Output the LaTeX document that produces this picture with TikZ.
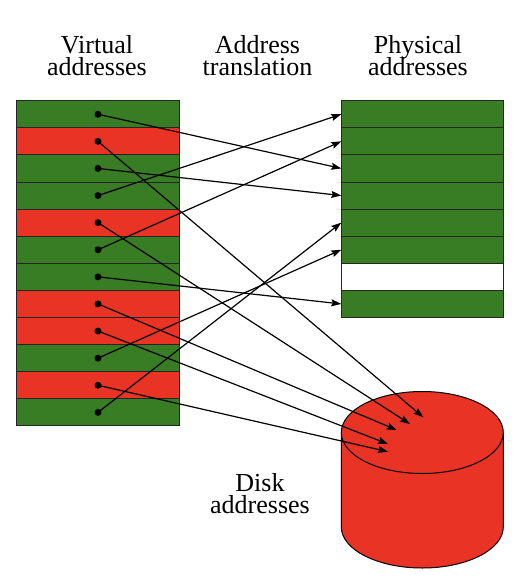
\documentclass[tikz,border=0pt]{standalone}
\usepackage{fontspec}
\setmainfont{Liberation Serif}
\usetikzlibrary{arrows.meta}
\definecolor{pgreen}{RGB}{56,124,36}
\definecolor{pred}{RGB}{233,51,36}
\begin{document}
\begin{tikzpicture}[x=1pt,y=-1pt,
  rowbox/.style={draw=black!85,line width=1pt,minimum width=162.6pt,minimum height=27.1pt,inner sep=0pt,outer sep=0pt,anchor=north west},
  greenrow/.style={rowbox,fill=pgreen},
  redrow/.style={rowbox,fill=pred},
  whiterow/.style={rowbox,fill=white},
  dotmark/.style={circle,fill=black,inner sep=0pt,minimum size=7pt},
  link/.style={line width=1.2pt,-{Stealth[length=10pt,width=7pt,inset=1.5pt]}},
  lbl/.style={font={\fontsize{26}{22}\selectfont\lineskiplimit=-30pt},align=center,inner sep=0pt}]
\useasboundingbox (0,0) rectangle (528,578);
% labels
\node[lbl,anchor=base] (vl) at (97,75) {Virtual\\addresses};
\node[lbl,anchor=base] (tl) at (257.5,75) {Address\\translation};
\node[lbl,anchor=base] (pl) at (418,75) {Physical\\addresses};
\node[lbl,anchor=base] (dl) at (260,513) {Disk\\addresses};
% virtual rows
\node[greenrow] (v1) at (16.7,100.7) {};
\node[redrow] (v2) at (16.7,127.8) {};
\node[greenrow] (v3) at (16.7,154.9) {};
\node[greenrow] (v4) at (16.7,182.0) {};
\node[redrow] (v5) at (16.7,209.1) {};
\node[greenrow] (v6) at (16.7,236.2) {};
\node[greenrow] (v7) at (16.7,263.3) {};
\node[redrow] (v8) at (16.7,290.4) {};
\node[redrow] (v9) at (16.7,317.5) {};
\node[greenrow] (v10) at (16.7,344.6) {};
\node[redrow] (v11) at (16.7,371.7) {};
\node[greenrow] (v12) at (16.7,398.8) {};
% physical rows
\node[greenrow] (p1) at (341.3,100.7) {};
\node[greenrow] (p2) at (341.3,127.8) {};
\node[greenrow] (p3) at (341.3,154.9) {};
\node[greenrow] (p4) at (341.3,182.0) {};
\node[greenrow] (p5) at (341.3,209.1) {};
\node[greenrow] (p6) at (341.3,236.2) {};
\node[whiterow] (p7) at (341.3,263.3) {};
\node[greenrow] (p8) at (341.3,290.4) {};
% disk
\draw[fill=pred,line width=1pt] (341.3,432.5) -- (341.3,527)
  .. controls (341.3,549.6) and (377.6,568) .. (422.3,568)
  .. controls (467,568) and (503.3,549.6) .. (503.3,527) -- (503.3,432.5);
\draw[fill=pred,line width=1pt] (422.3,432.5) ellipse [x radius=81,y radius=41];
\coordinate (k1) at (423.3,417.3);
\coordinate (k2) at (410,424);
\coordinate (k3) at (396.7,430);
\coordinate (k4) at (388,444);
\coordinate (k5) at (388,451.7);
% translations
\draw[link] (v1.center) -- (p3.west);
\draw[link] (v2.center) -- (k1);
\draw[link] (v3.center) -- (p4.west);
\draw[link] (v4.center) -- (p1.west);
\draw[link] (v5.center) -- (k2);
\draw[link] (v6.center) -- (p2.west);
\draw[link] (v7.center) -- (p8.west);
\draw[link] (v8.center) -- (k3);
\draw[link] (v9.center) -- (k4);
\draw[link] (v10.center) -- (p6.west);
\draw[link] (v11.center) -- (k5);
\draw[link] (v12.center) -- (p5.west);
% dots
\foreach \i in {1,...,12} \node[dotmark] (d\i) at (v\i.center) {};
\end{tikzpicture}
\end{document}
